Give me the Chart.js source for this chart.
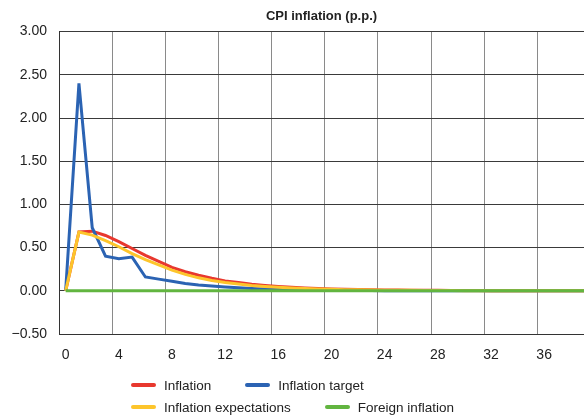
<!DOCTYPE html>
<html>
<head>
<meta charset="utf-8">
<title>CPI inflation (p.p.)</title>
<script src="https://cdn.jsdelivr.net/npm/chart.js@4.4.1/dist/chart.umd.min.js"></script>
<style>
  html, body { margin: 0; padding: 0; background: #fff; }
  #wrap { position: relative; width: 584px; height: 418px; overflow: hidden; }
  #my-chart { position: absolute; left: 0; top: 0; }
  #legend {
    position: absolute; left: 131px; top: 374px;
    font: 13.5px 'Liberation Sans', Arial, sans-serif;
    color: #222;
  }
  .row { display: flex; align-items: center; height: 22px; }
  .item { display: flex; align-items: center; margin-right: 34px; }
  .swatch { width: 25px; height: 4px; border-radius: 2px; margin-right: 8px; }
</style>
</head>
<body>
<div id="wrap">
  <canvas id="my-chart" width="584" height="418"></canvas>
  <div id="legend"></div>
</div>
<script>
'use strict';

// ********** DATA **********

let periods = ['0', '1', '2', '3', '4', '5', '6', '7', '8', '9',
  '10', '11', '12', '13', '14', '15', '16', '17', '18', '19',
  '20', '21', '22', '23', '24', '25', '26', '27', '28', '29',
  '30', '31', '32', '33', '34', '35', '36', '37', '38', '39'];

let inflation = [0, 0.68, 0.69, 0.64, 0.57, 0.49, 0.41, 0.34, 0.27, 0.22,
  0.18, 0.145, 0.115, 0.095, 0.075, 0.062, 0.05, 0.04, 0.033, 0.027,
  0.022, 0.018, 0.015, 0.012, 0.01, 0.008, 0.007, 0.006, 0.005, 0.004,
  0.003, 0.003, 0.002, 0.002, 0.002, 0.001, 0.001, 0.001, 0.001, 0.001];

let inflationTarget = [0, 2.40, 0.73, 0.40, 0.37, 0.39, 0.16, 0.135, 0.11, 0.085,
  0.068, 0.055, 0.044, 0.035, 0.028, 0.022, 0.017, 0.013, 0.01, 0.008,
  0.006, 0.005, 0.004, 0.003, 0.002, 0.002, 0.001, 0.001, 0.001, 0.001,
  0, 0, 0, 0, 0, 0, 0, 0, 0, 0];

let inflationExpectations = [0, 0.68, 0.645, 0.58, 0.51, 0.43, 0.36, 0.30, 0.24, 0.19,
  0.15, 0.12, 0.097, 0.078, 0.062, 0.05, 0.04, 0.032, 0.026, 0.021,
  0.017, 0.013, 0.011, 0.009, 0.007, 0.006, 0.005, 0.004, 0.003, 0.003,
  0.002, 0.002, 0.002, 0.001, 0.001, 0.001, 0.001, 0.001, 0.001, 0.001];

let foreignInflation = [0, 0, 0, 0, 0, 0, 0, 0, 0, 0,
  0, 0, 0, 0, 0, 0, 0, 0, 0, 0,
  0, 0, 0, 0, 0, 0, 0, 0, 0, 0,
  0, 0, 0, 0, 0, 0, 0, 0, 0, 0];

let seriesNames = ['Inflation', 'Inflation target', 'Inflation expectations', 'Foreign inflation'];
let seriesColors = ['#e8382e', '#2b63b3', '#fdc52b', '#62b540'];
let seriesValues = [inflation, inflationTarget, inflationExpectations, foreignInflation];
// draw order: lower number ends up on top
let seriesOrder = [3, 2, 1, 0];

let yMin = -0.5;
let yMax = 3;
let yStep = 0.5;
let xLabelEvery = 4;

// ********** CHART **********

let FONT = "'Liberation Sans', Arial, sans-serif";
Chart.defaults.font.family = FONT;
Chart.defaults.font.size = 14;
Chart.defaults.color = '#222';

let ctx = document.getElementById('my-chart');

let datasets = [];
for (let i = 0; i < seriesNames.length; i++) {
  datasets.push({
    label: seriesNames[i],
    data: seriesValues[i],
    borderColor: seriesColors[i],
    backgroundColor: seriesColors[i],
    borderWidth: 3,
    pointRadius: 0,
    tension: 0,
    order: seriesOrder[i]
  });
}

// periods that carry a label: 0, 4, 8, ...
function labelledPeriods() {
  let out = [];
  for (let i = 0; i < periods.length; i += xLabelEvery) {
    out.push(Number(periods[i]));
  }
  return out;
}

let firstPeriod = Number(periods[0]);
let lastPeriod = Number(periods[periods.length - 1]);

let chartObj = {
  type: 'line',
  data: {
    labels: periods,
    datasets: datasets
  },
  options: {
    responsive: false,
    animation: false,
    layout: {
      padding: 0
    },
    plugins: {
      legend: { display: false },
      tooltip: { enabled: false },
      title: {
        display: true,
        text: 'CPI inflation (p.p.)',
        fullSize: false,
        color: '#222',
        font: { family: FONT, size: 13, weight: 'bold' },
        padding: { top: 9, bottom: 7 }
      }
    },
    scales: {
      // labels sit on the periods
      x: {
        type: 'linear',
        position: 'bottom',
        min: firstPeriod - 0.5,
        max: lastPeriod,
        grid: { display: false, drawTicks: false },
        border: { color: '#333', width: 1 },
        afterBuildTicks: (scale) => {
          scale.ticks = labelledPeriods().map((v) => ({ value: v }));
        },
        ticks: {
          autoSkip: false,
          maxRotation: 0,
          padding: 0,
          // tall line box pushes the labels down without side padding
          font: { size: 14, lineHeight: 3 },
          callback: (v) => String(v)
        },
        afterFit: (scale) => { scale.height = 84; }
      },
      // vertical grid lines sit between periods
      xGrid: {
        type: 'linear',
        position: 'bottom',
        min: firstPeriod - 0.5,
        max: lastPeriod,
        grid: { drawTicks: false, color: '#8a8a8a', lineWidth: 1 },
        border: { display: false },
        afterBuildTicks: (scale) => {
          scale.ticks = labelledPeriods().map((v) => ({ value: v - 0.5 }));
        },
        ticks: { display: false },
        afterFit: (scale) => { scale.height = 0; }
      },
      y: {
        min: yMin,
        max: yMax,
        grid: { drawTicks: false, color: '#3a3a3a', lineWidth: 1 },
        border: { color: '#333', width: 1 },
        ticks: {
          stepSize: yStep,
          padding: 12,
          callback: (v) => v.toFixed(2).replace('-', '\u2212')
        },
        afterFit: (scale) => { scale.width = 59; }
      }
    }
  }
};

new Chart(ctx, chartObj); //eslint-disable-line

// ********** LEGEND **********

let legendEl = document.getElementById('legend');
let legendRows = [[0, 1], [2, 3]];
for (let r = 0; r < legendRows.length; r++) {
  let row = document.createElement('div');
  row.className = 'row';
  for (let k = 0; k < legendRows[r].length; k++) {
    let idx = legendRows[r][k];
    let item = document.createElement('div');
    item.className = 'item';
    let sw = document.createElement('span');
    sw.className = 'swatch';
    sw.style.background = seriesColors[idx];
    let txt = document.createElement('span');
    txt.textContent = seriesNames[idx];
    item.appendChild(sw);
    item.appendChild(txt);
    row.appendChild(item);
  }
  legendEl.appendChild(row);
}
</script>
</body>
</html>
